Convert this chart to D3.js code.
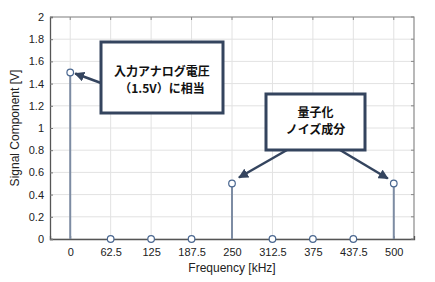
<!DOCTYPE html>
<html>
<head>
<meta charset="utf-8">
<script src="https://cdn.jsdelivr.net/npm/d3@7"></script>
<style>
body { margin: 0; background: #fff; }
svg { display: block; font-family: "Liberation Sans", Arial, sans-serif; }
</style>
</head>
<body>
<div id="chart"></div>
<script>
const freqs = [0, 62.5, 125, 187.5, 250, 312.5, 375, 437.5, 500];
const values = [1.5, 0, 0, 0, 0.5, 0, 0, 0, 0.5];
const xTicks = ["0", "62.5", "125", "187.5", "250", "312.5", "375", "437.5", "500"];
const yTicks = [0, 0.2, 0.4, 0.6, 0.8, 1, 1.2, 1.4, 1.6, 1.8, 2];

const W = 435, H = 282;
const margin = {top: 17, right: 21, bottom: 43, left: 50};

const svg = d3.select("#chart").append("svg")
    .attr("width", W)
    .attr("height", H);

const x = d3.scaleLinear().domain([-31.25, 531.25]).range([margin.left, W - margin.right]);
const y = d3.scaleLinear().domain([0, 2]).range([H - margin.bottom, margin.top]);

// grid
svg.append("g")
    .selectAll("line.gx")
    .data(freqs)
    .join("line")
    .attr("x1", d => x(d)).attr("x2", d => x(d))
    .attr("y1", y(0)).attr("y2", y(2))
    .attr("stroke", "#e2e2e2").attr("stroke-width", 1);
svg.append("g")
    .selectAll("line.gy")
    .data(yTicks)
    .join("line")
    .attr("x1", x.range()[0]).attr("x2", x.range()[1])
    .attr("y1", d => y(d)).attr("y2", d => y(d))
    .attr("stroke", "#e2e2e2").attr("stroke-width", 1);

// box top/right
svg.append("path")
    .attr("d", `M${x.range()[0]},${y(2)}H${x.range()[1]}V${y(0)}`)
    .attr("fill", "none").attr("stroke", "#8a8a8a").attr("stroke-width", 1.2);

// axes
const xAxis = svg.append("g")
    .attr("transform", `translate(0,${y(0)})`)
    .call(d3.axisBottom(x).tickValues(freqs).tickFormat((d, i) => xTicks[i]).tickSize(-3).tickPadding(9));
const yAxis = svg.append("g")
    .attr("transform", `translate(${x.range()[0]},0)`)
    .call(d3.axisLeft(y).tickValues(yTicks).tickFormat(d3.format("~g")).tickSize(-3).tickPadding(6));
[xAxis, yAxis].forEach(g => {
    g.select(".domain").attr("stroke", "#555").attr("stroke-width", 1.3);
    g.selectAll(".tick line").attr("stroke", "#777");
    g.selectAll(".tick text").attr("fill", "#222").style("font-size", "11px")
        .style("font-family", "'Liberation Sans', Arial, sans-serif");
});
// right-side inward ticks
svg.append("g")
    .selectAll("line")
    .data(yTicks)
    .join("line")
    .attr("x1", x.range()[1]).attr("x2", x.range()[1] - 3)
    .attr("y1", d => y(d)).attr("y2", d => y(d))
    .attr("stroke", "#888");
svg.append("g")
    .selectAll("line")
    .data(freqs)
    .join("line")
    .attr("x1", d => x(d)).attr("x2", d => x(d))
    .attr("y1", y(2)).attr("y2", y(2) + 3)
    .attr("stroke", "#888");

// stems
const pts = freqs.map((f, i) => ({f: f, v: values[i]}));
svg.append("g")
    .selectAll("line")
    .data(pts)
    .join("line")
    .attr("x1", d => x(d.f)).attr("x2", d => x(d.f))
    .attr("y1", y(0)).attr("y2", d => y(d.v))
    .attr("stroke", "#7d8ca3").attr("stroke-width", 2);
svg.append("g")
    .selectAll("circle")
    .data(pts)
    .join("circle")
    .attr("cx", d => x(d.f)).attr("cy", d => y(d.v))
    .attr("r", 3.3)
    .attr("fill", "#fff")
    .attr("stroke", "#4a6790").attr("stroke-width", 1.2);

// axis labels
svg.append("text")
    .attr("x", (x.range()[0] + x.range()[1]) / 2)
    .attr("y", 272)
    .attr("text-anchor", "middle")
    .style("font-size", "12px")
    .attr("fill", "#222")
    .text("Frequency [kHz]");
svg.append("text")
    .attr("transform", `translate(19,${(y(0) + y(2)) / 2}) rotate(-90)`)
    .attr("text-anchor", "middle")
    .style("font-size", "12px")
    .attr("fill", "#222")
    .text("Signal Component [V]");

// annotations
const navy = "#34445e";
svg.append("defs").append("marker")
    .attr("id", "arr")
    .attr("viewBox", "0 0 10 10")
    .attr("refX", 9).attr("refY", 5)
    .attr("markerWidth", 4).attr("markerHeight", 4)
    .attr("orient", "auto")
    .append("path").attr("d", "M0,0L10,5L0,10z").attr("fill", navy);

function note(x0, y0, w, h, lines, ly) {
    svg.append("rect")
        .attr("x", x0).attr("y", y0).attr("width", w).attr("height", h)
        .attr("fill", "#fff").attr("stroke", navy).attr("stroke-width", 3);
    lines.forEach((t, i) => {
        svg.append("text")
            .attr("x", x0 + w / 2).attr("y", ly[i])
            .attr("text-anchor", "middle")
            .style("font-family", "'Noto Sans CJK JP', sans-serif")
            .style("font-size", "12px")
            .style("font-weight", "bold")
            .attr("fill", "#111")
            .text(t);
    });
}
function arrow(x1, y1, x2, y2) {
    svg.append("line")
        .attr("x1", x1).attr("y1", y1).attr("x2", x2).attr("y2", y2)
        .attr("stroke", navy).attr("stroke-width", 2.5)
        .attr("marker-end", "url(#arr)");
}

arrow(101, 83, x(0) + 5, y(1.5) + 1);
arrow(287, 150, x(250) + 7, y(0.5) - 6);
arrow(340, 150, x(500) - 6, y(0.5) - 5);
note(101, 42, 122, 71, ["入力アナログ電圧", "（1.5V）に相当"], [76, 93]);
note(266, 94, 99, 56, ["量子化", "ノイズ成分"], [117, 134]);
</script>
</body>
</html>
